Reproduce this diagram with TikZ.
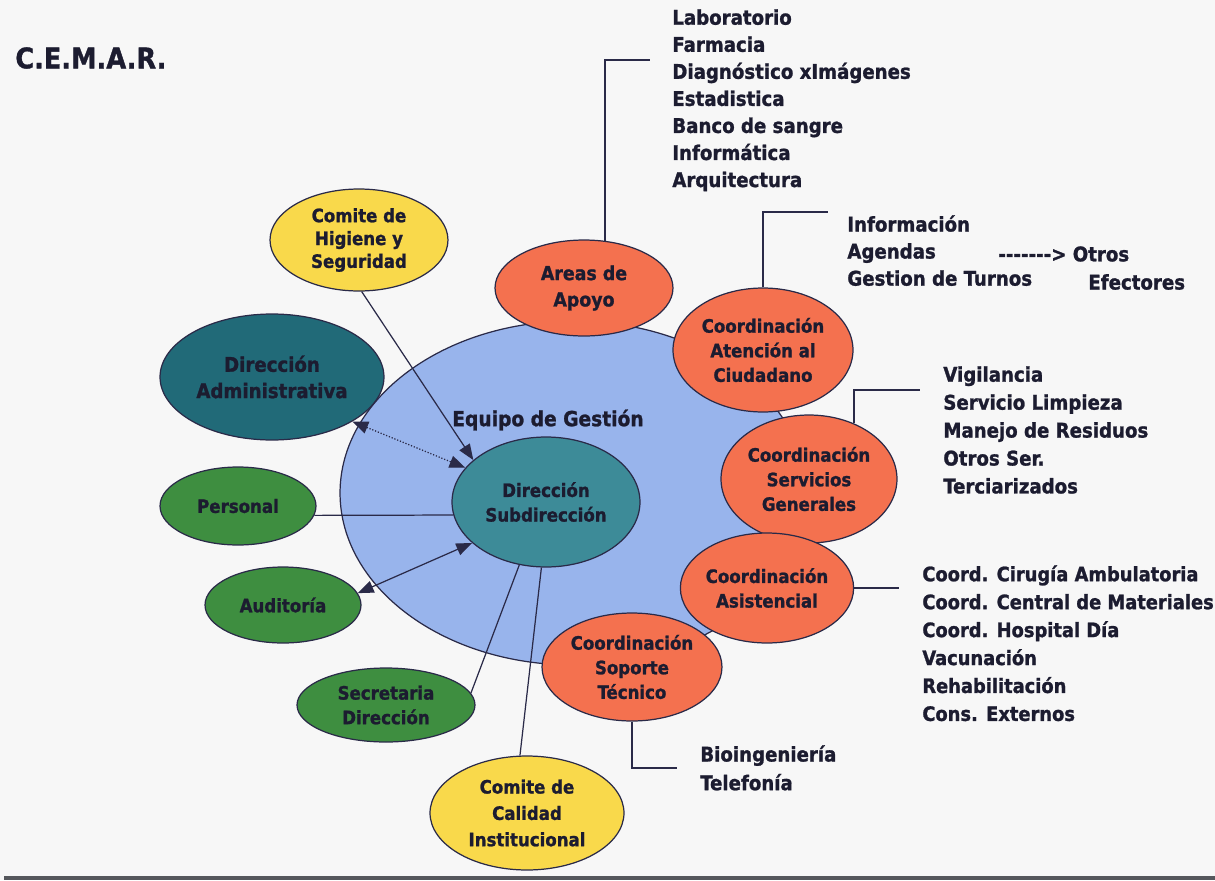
\documentclass[tikz,border=0pt]{standalone}
\usepackage{fontspec}
\setmainfont{DejaVu Sans Condensed}[BoldFeatures={FakeBold=1.2}]
\usetikzlibrary{shapes.geometric,arrows.meta,positioning}

\definecolor{bgc}{HTML}{F7F7F7}
\definecolor{txt}{HTML}{1C1C30}
\definecolor{linec}{HTML}{2A2A48}
\definecolor{blueq}{HTML}{98B4EC}
\definecolor{dirc}{HTML}{3D8B98}
\definecolor{admc}{HTML}{216A78}
\definecolor{orangec}{HTML}{F4714F}
\definecolor{greenc}{HTML}{3E8E40}
\definecolor{yellowc}{HTML}{F9D94B}
\definecolor{bordc}{HTML}{55575C}

\newcommand{\guion}{-\kern0pt}

\begin{document}
\begin{tikzpicture}[
  x=0.02cm,y=-0.02cm,
  elli/.style={ellipse,draw=linec,line width=0.7pt,inner sep=0pt,align=center,
    text=txt,font=\bfseries\fontsize{10.5}{14}\selectfont},
  orng/.style={elli,fill=orangec},
  grn/.style={elli,fill=greenc},
  yel/.style={elli,fill=yellowc},
  conn/.style={draw=linec,line width=0.7pt},
  arrowtip/.style={-{Triangle[length=9pt,width=7pt]}},
  bothtips/.style={{Triangle[length=9pt,width=7pt]}-{Triangle[length=9pt,width=7pt]}},
  lista/.style={anchor=north west,inner sep=0pt,align=left,text=txt,
    font=\bfseries\fontsize{11.5}{15.4}\selectfont}
]
  \fill[bgc] (0,0) rectangle (1215,880);
  \useasboundingbox (0,0) rectangle (1215,880);
  \fill[bordc] (4,876) rectangle (1215,880);

  \node[anchor=west,inner sep=0pt,text=txt,font=\bfseries\fontsize{16.2}{18}\selectfont]
    (cemar) at (15,58) {C.E.M.A.R.};

  % equipo de gestion
  \node[ellipse,draw=linec,line width=0.7pt,fill=blueq,minimum width=9.32cm,
    minimum height=6.88cm] (equipo) at (573,493) {};
  \node[text=txt,font=\bfseries\fontsize{11.8}{14}\selectfont] (equipotxt) at (548,420) {Equipo de Gestión};
  \node[elli,fill=dirc,minimum width=3.76cm,minimum height=2.6cm] (direccion) at (546,502) {Dirección\\Subdirección};

  % alrededor
  \node[elli,fill=admc,minimum width=4.48cm,minimum height=2.52cm,
    font=\bfseries\fontsize{11.5}{15}\selectfont] (admin) at (272,377) {Dirección\\Administrativa};
  \node[yel,minimum width=3.56cm,minimum height=2.04cm,
    font=\bfseries\fontsize{10.5}{13}\selectfont] (higiene) at (359,240) {Comite de\\Higiene y\\Seguridad};
  \node[orng,minimum width=3.56cm,minimum height=1.92cm,
    font=\bfseries\fontsize{11}{15}\selectfont] (apoyo) at (584,288) {Areas de\\Apoyo};
  \node[orng,minimum width=3.6cm,minimum height=2.48cm] (atencion) at (763,350) {Coordinación\\Atención al\\Ciudadano};
  \node[orng,minimum width=3.52cm,minimum height=2.56cm] (servicios) at (809,479) {Coordinación\\Servicios\\Generales};
  \node[orng,minimum width=3.4cm,minimum height=2.2cm] (asistencial) at (767,588) {Coordinación\\Asistencial};
  \node[orng,minimum width=3.6cm,minimum height=2.16cm] (soporte) at (632,667) {Coordinación\\Soporte\\Técnico};
  \node[yel,minimum width=3.88cm,minimum height=2.28cm,
    font=\bfseries\fontsize{10.5}{15}\selectfont] (calidad) at (527,813) {Comite de\\Calidad\\Institucional};
  \node[grn,minimum width=3.12cm,minimum height=1.56cm] (personal) at (238,506) {Personal};
  \node[grn,minimum width=3.12cm,minimum height=1.52cm] (auditoria) at (283,605) {Auditoría};
  \node[grn,minimum width=3.56cm,minimum height=1.48cm] (secretaria) at (386,705) {Secretaria\\Dirección};

  % listas
  \node[lista] (apoyolist) at (672,9) {Laboratorio\\Farmacia\\Diagnóstico xImágenes\\Estadistica\\Banco de sangre\\Informática\\Arquitectura};
  \node[lista] (atenlist) at (847,215) {Información\\Agendas\\Gestion de Turnos};
  \node[lista,anchor=west] (otros) at (998,254) {\guion\guion\guion\guion\guion\guion\guion> Otros};
  \node[lista,anchor=west] (efectores) at (1088,282) {Efectores};
  \node[lista,font=\bfseries\fontsize{11.5}{15.9}\selectfont] (servlist) at (943,366) {Vigilancia\\Servicio Limpieza\\Manejo de Residuos\\Otros Ser.\\Terciarizados};
  \node[lista,font=\bfseries\fontsize{11.3}{15.9}\selectfont] (asislist) at (922,565) {Coord. Cirugía Ambulatoria\\Coord. Central de Materiales\\Coord. Hospital Día\\Vacunación\\Rehabilitación\\Cons. Externos};
  \node[lista,font=\bfseries\fontsize{11.5}{16.3}\selectfont] (soplist) at (700,745) {Bioingeniería\\Telefonía};

  \coordinate (apoyoB) at (650,60);
  \coordinate (atenB) at (828,212);
  \coordinate (servB) at (920,390);
  \coordinate (asisB) at (899,588);
  \coordinate (sopB) at (677,768);

  % conectores
  \draw[conn,arrowtip] (higiene.-87) -- (direccion.150);
  \draw[conn,densely dotted,bothtips] (admin.-29) -- (direccion.157);
  \draw[conn] (personal.-7) -- (direccion.188);
  \draw[conn,bothtips] (auditoria.9) -- (direccion.209);
  \draw[conn] (secretaria.8) -- (direccion.247);
  \draw[conn] (calidad.97) -- (direccion.266);

  \draw[conn] (apoyo.66) |- (apoyoB);
  \draw[conn] (atencion.north) |- (atenB);
  \draw[conn] (servicios.51) |- (servB);
  \draw[conn] (asistencial.east) -- (asisB);
  \draw[conn] (soporte.south) |- (sopB);
\end{tikzpicture}
\end{document}
